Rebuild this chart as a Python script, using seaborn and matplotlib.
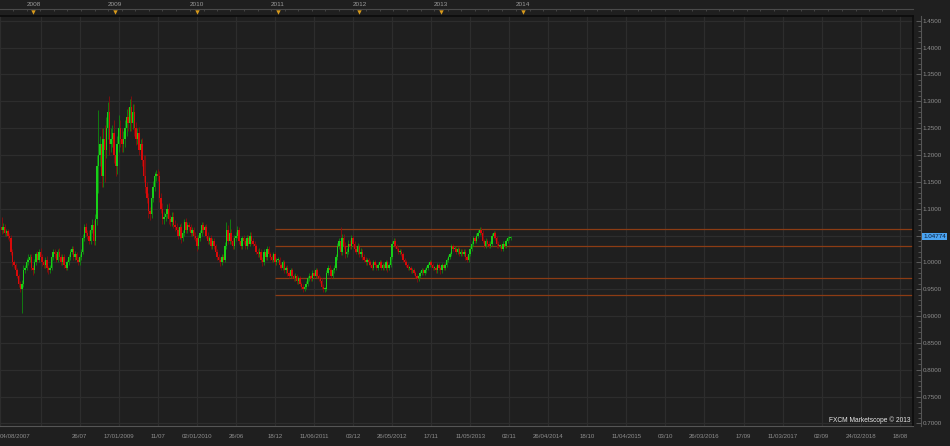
import numpy as np
import pandas as pd
import matplotlib
matplotlib.use("Agg")
import matplotlib.pyplot as plt
import seaborn as sns
from matplotlib.ticker import FixedLocator, MultipleLocator

# ---------------- data (weekly USD/CAD candles) ----------------
start_date = "2007-08-04"
first_open = 1.065
close = [
    1.060, 1.065, 1.055, 1.058, 1.050, 1.045, 1.020, 1.000, 0.995, 0.985,
    0.975, 0.960, 0.950, 0.960, 0.985, 0.990, 1.000, 1.005, 1.010, 0.990,
    0.985, 1.000, 1.015, 1.005, 1.020, 1.010, 1.000, 0.995, 1.005, 0.990,
    0.985, 0.990, 1.010, 1.020, 1.015, 1.005, 1.020, 1.010, 1.000, 1.010,
    0.995, 0.990, 1.000, 1.010, 1.020, 1.025, 1.010, 1.015, 1.005, 1.000,
    1.010, 1.020, 1.045, 1.065, 1.055, 1.050, 1.040, 1.060, 1.070, 1.040,
    1.080, 1.180, 1.200, 1.220, 1.160, 1.230, 1.210, 1.250, 1.280, 1.220,
    1.230, 1.240, 1.200, 1.180, 1.220, 1.250, 1.230, 1.220, 1.230, 1.250,
    1.270, 1.260, 1.290, 1.260, 1.280, 1.250, 1.230, 1.240, 1.210, 1.220,
    1.190, 1.160, 1.140, 1.120, 1.095, 1.090, 1.120, 1.140, 1.160, 1.165,
    1.160, 1.120, 1.100, 1.080, 1.085, 1.090, 1.100, 1.080, 1.075, 1.085,
    1.070, 1.065, 1.060, 1.050, 1.065, 1.045, 1.055, 1.075, 1.060, 1.070,
    1.065, 1.055, 1.060, 1.050, 1.045, 1.030, 1.045, 1.055, 1.070, 1.060,
    1.065, 1.050, 1.040, 1.045, 1.030, 1.040, 1.030, 1.020, 1.010, 1.005,
    1.000, 1.010, 1.005, 1.030, 1.060, 1.040, 1.055, 1.040, 1.030, 1.045,
    1.050, 1.060, 1.040, 1.030, 1.045, 1.040, 1.030, 1.045, 1.035, 1.050,
    1.040, 1.035, 1.030, 1.020, 1.015, 1.020, 1.005, 1.000, 1.020, 1.010,
    1.025, 1.015, 1.010, 1.005, 1.015, 1.000, 1.005, 1.005, 0.995, 0.990,
    1.000, 0.985, 0.990, 0.980, 0.975, 0.985, 0.975, 0.970, 0.975, 0.965,
    0.970, 0.960, 0.955, 0.950, 0.955, 0.960, 0.970, 0.975, 0.970, 0.980,
    0.975, 0.985, 0.975, 0.970, 0.965, 0.955, 0.950, 0.950, 0.980, 0.990,
    0.985, 0.975, 0.985, 0.990, 1.010, 1.030, 1.040, 1.020, 1.045, 1.030,
    1.015, 1.020, 1.035, 1.030, 1.045, 1.035, 1.025, 1.020, 1.030, 1.015,
    1.020, 1.010, 1.005, 1.000, 1.005, 1.000, 0.995, 0.990, 1.000, 0.995,
    0.990, 0.995, 1.000, 0.990, 0.995, 0.990, 1.000, 0.990, 0.995, 1.010,
    1.035, 1.040, 1.030, 1.025, 1.020, 1.020, 1.015, 1.005, 1.000, 0.995,
    0.990, 0.990, 0.985, 0.985, 0.980, 0.975, 0.970, 0.975, 0.980, 0.985,
    0.980, 0.985, 0.990, 0.995, 1.000, 0.995, 0.990, 0.990, 0.985, 0.995,
    0.990, 0.985, 0.995, 0.990, 0.995, 1.005, 1.010, 1.015, 1.030, 1.025,
    1.025, 1.020, 1.025, 1.015, 1.020, 1.015, 1.020, 1.010, 1.005, 1.015,
    1.025, 1.035, 1.045, 1.040, 1.050, 1.055, 1.060, 1.055, 1.040, 1.030,
    1.040, 1.035, 1.030, 1.035, 1.050, 1.055, 1.045, 1.035, 1.030, 1.030,
    1.025, 1.035, 1.030, 1.040, 1.045, 1.045, 1.0477,
]
# upper / lower shadow lengths in thousandths
up_wick = [
    20, 8, 6, 5, 5, 5, 6, 5, 5, 4,
    5, 4, 5, 8, 10, 6, 8, 10, 6, 6,
    5, 6, 5, 6, 5, 6, 5, 5, 5, 6,
    4, 6, 5, 5, 5, 6, 5, 6, 5, 5,
    5, 5, 5, 5, 4, 5, 5, 6, 5, 5,
    5, 5, 8, 6, 8, 6, 10, 8, 10, 8,
    10, 20, 84, 15, 30, 20, 25, 20, 19, 30,
    20, 15, 25, 20, 15, 24, 15, 20, 15, 15,
    15, 20, 15, 20, 15, 15, 12, 10, 12, 10,
    12, 10, 40, 10, 10, 8, 10, 12, 8, 7,
    8, 10, 10, 10, 8, 8, 8, 10, 8, 8,
    8, 8, 8, 6, 6, 8, 6, 6, 8, 6,
    6, 6, 6, 6, 6, 6, 6, 6, 5, 6,
    5, 6, 6, 5, 6, 5, 6, 5, 5, 5,
    5, 5, 6, 8, 15, 10, 25, 8, 8, 6,
    6, 8, 6, 6, 5, 6, 5, 6, 6, 6,
    6, 5, 5, 5, 5, 6, 5, 5, 5, 5,
    5, 5, 5, 4, 5, 5, 4, 5, 5, 4,
    5, 5, 4, 5, 4, 5, 4, 4, 5, 4,
    4, 5, 4, 4, 4, 5, 5, 5, 4, 5,
    5, 4, 5, 4, 4, 5, 4, 4, 5, 5,
    5, 4, 5, 5, 5, 6, 6, 25, 8, 8,
    8, 6, 6, 6, 6, 6, 5, 5, 6, 5,
    6, 5, 5, 5, 4, 4, 5, 4, 4, 4,
    4, 4, 4, 4, 4, 4, 4, 4, 4, 5,
    5, 5, 5, 4, 4, 4, 5, 4, 4, 4,
    4, 4, 4, 4, 4, 4, 4, 4, 4, 4,
    4, 4, 4, 4, 5, 4, 4, 4, 4, 4,
    4, 4, 4, 4, 4, 4, 4, 5, 4, 5,
    5, 4, 4, 4, 4, 4, 4, 4, 4, 5,
    5, 5, 5, 4, 5, 5, 5, 5, 5, 4,
    5, 4, 4, 5, 5, 4, 4, 4, 4, 4,
    4, 4, 4, 4, 4, 4, 2,
]
down_wick = [
    8, 6, 6, 5, 6, 5, 6, 6, 5, 5,
    5, 6, 6, 44, 6, 5, 5, 5, 5, 5,
    8, 5, 5, 5, 5, 5, 6, 5, 5, 8,
    6, 5, 5, 5, 6, 5, 5, 5, 5, 5,
    5, 5, 5, 5, 5, 5, 5, 5, 5, 5,
    5, 5, 5, 6, 6, 6, 6, 6, 6, 8,
    8, 10, 50, 20, 20, 20, 60, 15, 20, 20,
    15, 15, 15, 20, 15, 15, 15, 15, 15, 15,
    15, 15, 15, 15, 12, 15, 12, 10, 10, 10,
    10, 10, 10, 10, 12, 11, 8, 8, 8, 8,
    8, 8, 8, 8, 8, 8, 8, 8, 8, 8,
    6, 6, 6, 6, 6, 8, 6, 6, 6, 6,
    6, 6, 6, 6, 6, 8, 6, 6, 6, 6,
    6, 5, 6, 5, 5, 5, 5, 5, 5, 5,
    6, 5, 5, 5, 5, 6, 6, 5, 5, 5,
    5, 5, 5, 6, 5, 5, 5, 5, 5, 5,
    5, 5, 5, 5, 5, 5, 5, 6, 5, 5,
    5, 5, 5, 5, 5, 5, 5, 5, 5, 5,
    5, 5, 4, 5, 5, 4, 4, 5, 4, 5,
    5, 4, 5, 6, 4, 5, 4, 4, 5, 4,
    4, 4, 4, 5, 4, 5, 6, 6, 4, 4,
    4, 5, 4, 4, 4, 5, 5, 6, 6, 6,
    6, 5, 5, 5, 5, 5, 5, 5, 5, 5,
    5, 5, 5, 4, 4, 5, 4, 4, 4, 4,
    4, 4, 4, 4, 4, 4, 4, 8, 4, 4,
    4, 4, 4, 4, 4, 4, 4, 4, 4, 4,
    4, 4, 4, 4, 4, 4, 6, 4, 4, 4,
    4, 4, 4, 4, 4, 4, 4, 4, 4, 4,
    4, 6, 4, 4, 4, 4, 4, 4, 4, 4,
    4, 4, 4, 4, 4, 4, 4, 6, 4, 4,
    4, 4, 4, 4, 4, 4, 4, 4, 4, 4,
    4, 4, 4, 4, 4, 4, 4, 8, 4, 4,
    4, 4, 4, 4, 4, 4, 3,
]
levels = [1.0615, 1.0300, 0.9700, 0.9385]
levels_from = "18/12/2010"
last_price = "1.04774"
tick_dates = ["04/08/2007", "26/07/2008", "17/01/2009", "11/07/2009", "02/01/2010",
              "26/06/2010", "18/12/2010", "11/06/2011", "03/12/2011", "26/05/2012",
              "17/11/2012", "11/05/2013", "02/11/2013", "26/04/2014", "18/10/2014",
              "11/04/2015", "03/10/2015", "26/03/2016", "17/09/2016", "11/03/2017",
              "02/09/2017", "24/02/2018", "18/08/2018"]
tick_labels = ["04/08/2007", "26/07", "17/01/2009", "11/07", "02/01/2010", "26/06",
               "18/12", "11/06/2011", "03/12", "26/05/2012", "17/11", "11/05/2013",
               "02/11", "26/04/2014", "18/10", "11/04/2015", "03/10", "26/03/2016",
               "17/09", "11/03/2017", "02/09", "24/02/2018", "18/08"]
extra_grid_dates = ["02/02/2008"]
years = ["2008", "2009", "2010", "2011", "2012", "2013", "2014"]
price_ticks = ["0.7000", "0.7500", "0.8000", "0.8500", "0.9000", "0.9500", "1.0000",
               "1.0500", "1.1000", "1.1500", "1.2000", "1.2500", "1.3000", "1.3500",
               "1.4000", "1.4500"]
hidden_price_label = "1.0500"   # covered by the last-price box in the reference
watermark = "FXCM Marketscope © 2013"

# ---------------- style ----------------
BG = "#1f1f1f"
GRID = "#2d2d2d"
TXT = "#8e8e8e"
sns.set_theme(style="dark", rc={"axes.facecolor": BG, "figure.facecolor": BG})
plt.rcParams["font.family"] = ["Liberation Sans", "DejaVu Sans"]

W, H = 950, 446
fig = plt.figure(figsize=(W / 100, H / 100), dpi=100, facecolor=BG)


def px(l, t, r, b):
    return [l / W, 1 - b / H, (r - l) / W, (b - t) / H]


start = pd.Timestamp(start_date)


def wk(d):
    return (pd.to_datetime(d, dayfirst=True) - start).days / 7.0


XMAX = 584.5
YLO, YHI = 0.6953, 1.4588

ax = fig.add_axes(px(0, 16, 913, 426))
ax.set_facecolor(BG)
ax.set_xlim(0, XMAX)
ax.set_ylim(YLO, YHI)

# grid
for v in price_ticks:
    ax.axhline(float(v), color=GRID, lw=0.9, zorder=0)
for d in tick_dates + extra_grid_dates:
    ax.axvline(wk(d), color=GRID, lw=0.9, zorder=0)

# candles
n = len(close)
dates = pd.date_range(start + pd.Timedelta(days=7), periods=n, freq="7D")
df = pd.DataFrame({"date": dates, "close": close,
                   "up": up_wick[:n], "dn": down_wick[:n]})
df["open"] = [first_open] + close[:-1]
df["x"] = (df["date"] - start).dt.days / 7.0
df["top"] = df[["open", "close"]].max(axis=1)
df["bot"] = df[["open", "close"]].min(axis=1)
df["high"] = df["top"] + df["up"] / 1000.0
df["low"] = df["bot"] - df["dn"] / 1000.0
df["bull"] = df["close"] >= df["open"]
body_h = np.maximum(df["top"] - df["bot"], 0.0015)

wick_col = np.where(df["bull"], "#0f8a0f", "#8a0c0c")
body_col = np.where(df["bull"], "#18d018", "#d80a0a")
ax.vlines(df["x"], df["low"], df["high"], colors=wick_col, lw=0.6, zorder=2)
ax.bar(df["x"], body_h, bottom=df["bot"], width=0.9, color=body_col,
       linewidth=0, zorder=3)

# support / resistance lines
ax.hlines(levels, wk(levels_from), XMAX, colors="#8c3c14", lw=0.9, zorder=1)

# frame
ax.spines["left"].set_visible(False)
ax.spines["top"].set_color("#0c0c0c")
ax.spines["right"].set_color("#0c0c0c")
ax.spines["right"].set_linewidth(1.2)
ax.spines["bottom"].set_color("#555555")
ax.spines["bottom"].set_linewidth(0.8)

ax.set_yticks([])
ax.set_xticks([wk(d) for d in tick_dates])
ax.set_xticklabels(tick_labels)
ax.xaxis.set_minor_locator(FixedLocator(np.arange(0, XMAX, 25 / 9)))
ax.tick_params(axis="x", which="major", direction="out", length=3.2, width=0.6,
               color="#555555", labelsize=4.4, labelcolor=TXT, pad=2.2)
ax.tick_params(axis="x", which="minor", direction="out", length=2.0, width=0.5,
               color="#555555")
ax.get_xticklabels()[0].set_ha("left")
ax.grid(False)

ax.text(0.997, 0.004, watermark, transform=ax.transAxes, ha="right", va="bottom",
        fontsize=4.8, color="#e8e8e8", zorder=5)

# right price scale
axr = fig.add_axes(px(919, 16, 921, 426))
axr.set_facecolor("none")
axr.set_ylim(YLO, YHI)
axr.set_xticks([])
for s in ["left", "top", "bottom"]:
    axr.spines[s].set_visible(False)
axr.spines["right"].set_color("#555555")
axr.spines["right"].set_linewidth(0.8)
axr.yaxis.tick_right()
axr.set_yticks([float(v) for v in price_ticks])
axr.set_yticklabels(["" if v == hidden_price_label else v for v in price_ticks])
axr.yaxis.set_minor_locator(MultipleLocator(0.01))
axr.tick_params(axis="y", which="major", direction="in", length=3.5, width=0.6,
                color="#666666", labelsize=4.5, labelcolor=TXT, pad=1.2)
axr.tick_params(axis="y", which="minor", direction="in", length=2.0, width=0.5,
                color="#666666")
axr.grid(False)
axr.annotate(last_price, xy=(1, float(last_price)),
             xycoords=("axes fraction", "data"), xytext=(1.6, 0),
             textcoords="offset points", ha="left", va="center",
             fontsize=4.5, color="#0b1a33", zorder=6,
             bbox=dict(boxstyle="square,pad=0.18", fc="#4aa3f0", ec="none"))

# top year strip
axt = fig.add_axes(px(0, 9, 913, 16))
axt.set_facecolor("none")
axt.set_xlim(0, XMAX)
axt.set_ylim(0, 1)
axt.set_yticks([])
for s in ["left", "right", "bottom"]:
    axt.spines[s].set_visible(False)
axt.spines["top"].set_color("#4a4a4a")
axt.spines["top"].set_linewidth(0.8)
yx = [wk("01/01/" + y) for y in years]
axt.xaxis.tick_top()
axt.set_xticks(yx)
axt.set_xticklabels(years)
months = pd.date_range("2007-10-01", "2018-09-01", freq="2MS")
axt.xaxis.set_minor_locator(FixedLocator([(m - start).days / 7.0 for m in months]))
axt.tick_params(axis="x", which="major", direction="in", length=0, labelsize=4.6,
                labelcolor="#9a9a9a", pad=1.8)
axt.tick_params(axis="x", which="minor", direction="in", length=1.6, width=0.5,
                color="#555555")
axt.scatter(yx, [0.55] * len(yx), marker="v", s=10, color="#d89a1c",
            linewidths=0, clip_on=False, zorder=4)
axt.grid(False)

fig.savefig("out.png", dpi=100, facecolor=BG)
